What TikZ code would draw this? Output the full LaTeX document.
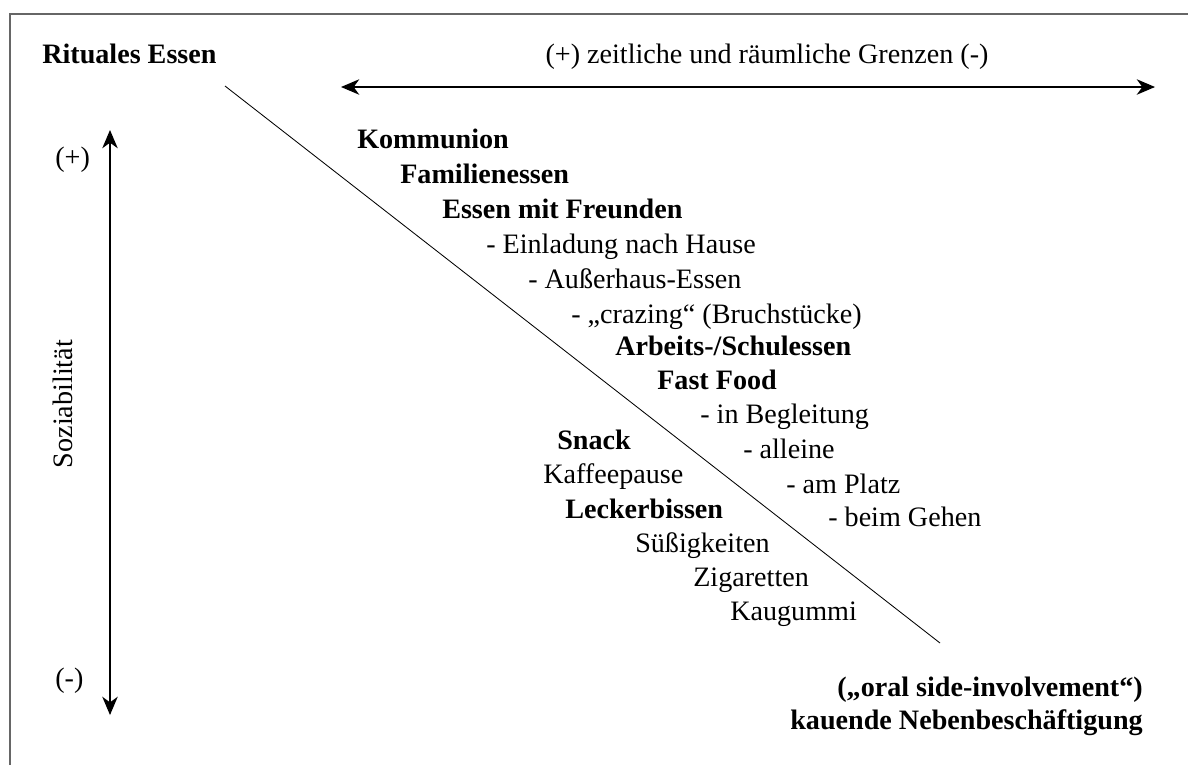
\documentclass[tikz,border=0pt]{standalone}
\usepackage{fontspec}
\setmainfont{Liberation Serif}
\usetikzlibrary{calc}
\usetikzlibrary{arrows.meta}

\tikzset{
  item/.style={anchor=west, inner sep=0pt, text height=13pt, text depth=4pt, font=\fontsize{20}{24}\selectfont},
  bitem/.style={item, font=\fontsize{20}{24}\selectfont\bfseries},
  axis/.style={line width=0.8pt, {Stealth[length=13pt, width=11pt, inset=4pt]}-{Stealth[length=13pt, width=11pt, inset=4pt]}}
}

\begin{document}
\begin{tikzpicture}[x=0.025cm, y=-0.025cm]
    \useasboundingbox (0,0) rectangle (1188,765);
    \coordinate (F0) at (10,765);
    \coordinate (F1) at (10,14);
    \coordinate (F2) at (1188,14);
    \coordinate (H0) at (341,87);
    \coordinate (H1) at (1155,87);
    \coordinate (V0) at (110,130);
    \coordinate (V1) at (110,715);
    \coordinate (D0) at (225,86);
    \coordinate (D1) at (940,643);

    \draw [gray!80!black, line width=0.9pt](F0) -- (F1) -- (F2);
    \draw [axis](H0) -- (H1);
    \draw [axis](V0) -- (V1);
    \draw [line width=0.6pt](D0) -- (D1);

    \node [bitem] (rit) at (42, 57) {Rituales Essen};
    \node [item, anchor=center] (grenz) at (767, 57) {(+) zeitliche und räumliche Grenzen (-)};
    \node [item] (plus) at (55, 160) {(+)};
    \node [item] (minus) at (55, 681) {(-)};
    \node [item, anchor=center, rotate=90] (soz) at (66, 404) {Soziabilität};

    \node [bitem] (komm) at (357, 142) {Kommunion};
    \node [bitem] (fam) at (400, 177) {Familienessen};
    \node [bitem] (freu) at (442, 212) {Essen mit Freunden};
    \node [item] (einl) at (486, 247) {- Einladung nach Hause};
    \node [item] (auss) at (528, 282) {- Außerhaus-Essen};
    \node [item] (craz) at (571, 317) {- „crazing“ (Bruchstücke)};
    \node [bitem] (arb) at (615, 349) {Arbeits-/Schulessen};
    \node [bitem] (fast) at (657, 383) {Fast Food};
    \node [item] (begl) at (700, 417) {- in Begleitung};
    \node [item] (alle) at (743, 452) {- alleine};
    \node [item] (platz) at (786, 487) {- am Platz};
    \node [item] (geh) at (828, 520) {- beim Gehen};

    \node [bitem] (snack) at (557, 443) {Snack};
    \node [item] (kaff) at (543, 477) {Kaffeepause};
    \node [bitem] (leck) at (565, 512) {Leckerbissen};
    \node [item] (suess) at (635, 546) {Süßigkeiten};
    \node [item] (zig) at (693, 580) {Zigaretten};
    \node [item] (kaug) at (730, 614) {Kaugummi};

    \node [bitem, anchor=east] (oral) at (1143, 690) {(„oral side-involvement“)};
    \node [bitem, anchor=east] (kau) at (1143, 723) {kauende Nebenbeschäftigung};

  \end{tikzpicture}
\end{document}
